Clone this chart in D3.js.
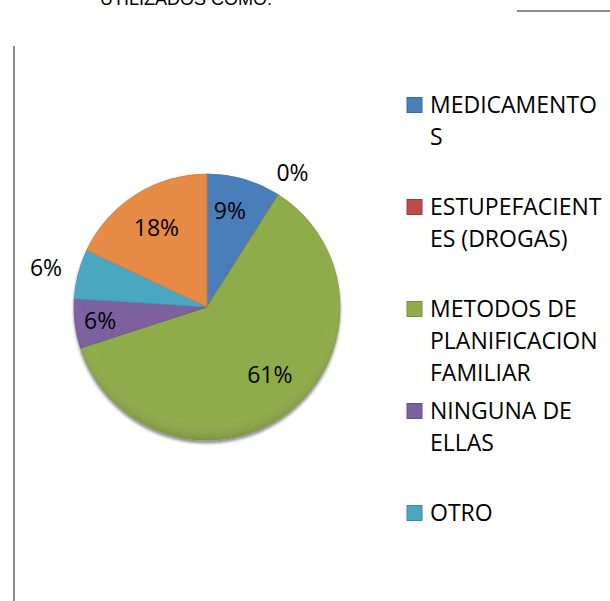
<!DOCTYPE html>
<html>
<head>
<meta charset="utf-8">
<script src="https://cdn.jsdelivr.net/npm/d3@7"></script>
<style>
  html, body { margin: 0; padding: 0; background: #fff; }
  svg { display: block; }
  text { font-family: "Open Sans", "Noto Sans", sans-serif; fill: #000; }
</style>
</head>
<body>
<svg id="chart" width="610" height="601"></svg>
<script>
// data
const categories = ["MEDICAMENTOS", "ESTUPEFACIENTES (DROGAS)", "METODOS DE PLANIFICACION FAMILIAR", "NINGUNA DE ELLAS", "OTRO", "SIN DATO"];
const values = [9, 0, 61, 6, 6, 18];
const colors = ["#4a7ebb", "#be4b48", "#8fac4c", "#7d60a0", "#4aa7c2", "#e58b45"];
// legend as it wraps in the original (last item is clipped away there)
const legendLines = [
  ["MEDICAMENTO", "S"],
  ["ESTUPEFACIENT", "ES (DROGAS)"],
  ["METODOS DE", "PLANIFICACION", "FAMILIAR"],
  ["NINGUNA DE", "ELLAS"],
  ["OTRO"]
];

const svg = d3.select("#chart");

// page bits around the chart
svg.append("text")
  .attr("x", 100).attr("y", 5)
  .style("font-family", "Liberation Sans, Arial, sans-serif")
  .style("font-size", "18px")
  .text("UTILIZADOS COMO:");
svg.append("line")
  .attr("x1", 517).attr("x2", 610).attr("y1", 11).attr("y2", 11)
  .attr("stroke", "#8c8c8c").attr("stroke-width", 2);
svg.append("line")
  .attr("x1", 14).attr("x2", 14).attr("y1", 46).attr("y2", 601)
  .attr("stroke", "#8c8c8c").attr("stroke-width", 2);

const cx = 207, cy = 307, r = 133;

const defs = svg.append("defs");
const f = defs.append("filter").attr("id", "shadow")
  .attr("x", "-10%").attr("y", "-10%").attr("width", "120%").attr("height", "125%");
f.append("feGaussianBlur").attr("in", "SourceAlpha").attr("stdDeviation", 1.5);
f.append("feOffset").attr("dx", 0).attr("dy", 3).attr("result", "b");
f.append("feComponentTransfer").append("feFuncA").attr("type", "linear").attr("slope", 0.45);
const m = f.append("feMerge");
m.append("feMergeNode");
m.append("feMergeNode").attr("in", "SourceGraphic");

const shade = defs.append("radialGradient").attr("id", "shade")
  .attr("cx", "50%").attr("cy", "45%").attr("r", "55%");
shade.append("stop").attr("offset", "0%").attr("stop-color", "#fff").attr("stop-opacity", 0);
shade.append("stop").attr("offset", "85%").attr("stop-color", "#fff").attr("stop-opacity", 0);
shade.append("stop").attr("offset", "100%").attr("stop-color", "#000").attr("stop-opacity", 0.12);

const pie = d3.pie().sort(null).value(d => d);
const arcs = pie(values);
const arc = d3.arc().innerRadius(0).outerRadius(r);

const g = svg.append("g").attr("transform", `translate(${cx},${cy})`);
const pg = g.append("g").attr("filter", "url(#shadow)");
pg.selectAll("path.slice")
  .data(arcs)
  .enter().append("path")
  .attr("class", "slice")
  .attr("d", arc)
  .attr("fill", (d, i) => colors[i])
  .attr("stroke", (d, i) => d3.color(colors[i]).darker(0.3))
  .attr("stroke-width", 0.8);
g.append("circle").attr("r", r).attr("fill", "url(#shade)").attr("pointer-events", "none");

// data labels: radius factor per slice, small nudges like Excel's placement
const labelK = [0.75, 1.2, 0.71, 0.81, 1.25, 0.71];
const labelNudge = [[-5, 0], [0, 0], [5, -7], [0, 0], [0, 2], [0, 0]];
g.selectAll("text.lbl")
  .data(arcs)
  .enter().append("text")
  .attr("class", "lbl")
  .attr("transform", (d, i) => {
    const p = d3.arc().innerRadius(r * labelK[i]).outerRadius(r * labelK[i]).centroid(d);
    return `translate(${p[0] + labelNudge[i][0]},${p[1] + labelNudge[i][1]})`;
  })
  .attr("text-anchor", "middle")
  .attr("dy", "0.36em")
  .style("font-size", "23px")
  .text(d => d3.format(".0f")(d.data) + "%");

// legend
const lineH = 32;
let y = 105;
const lg = svg.append("g");
legendLines.forEach((lines, i) => {
  lg.append("rect")
    .attr("x", 407).attr("y", y - 7.5)
    .attr("width", 15).attr("height", 15)
    .attr("fill", colors[i])
    .attr("stroke", d3.color(colors[i]).darker(0.5)).attr("stroke-width", 1);
  lines.forEach((t, j) => {
    lg.append("text")
      .attr("x", 430)
      .attr("y", y + j * lineH)
      .attr("dy", "0.36em")
      .style("font-size", "23px")
      .text(t);
  });
  y += lines.length * lineH + (lines.length === 2 ? 38 : 6);
});
</script>
</body>
</html>
